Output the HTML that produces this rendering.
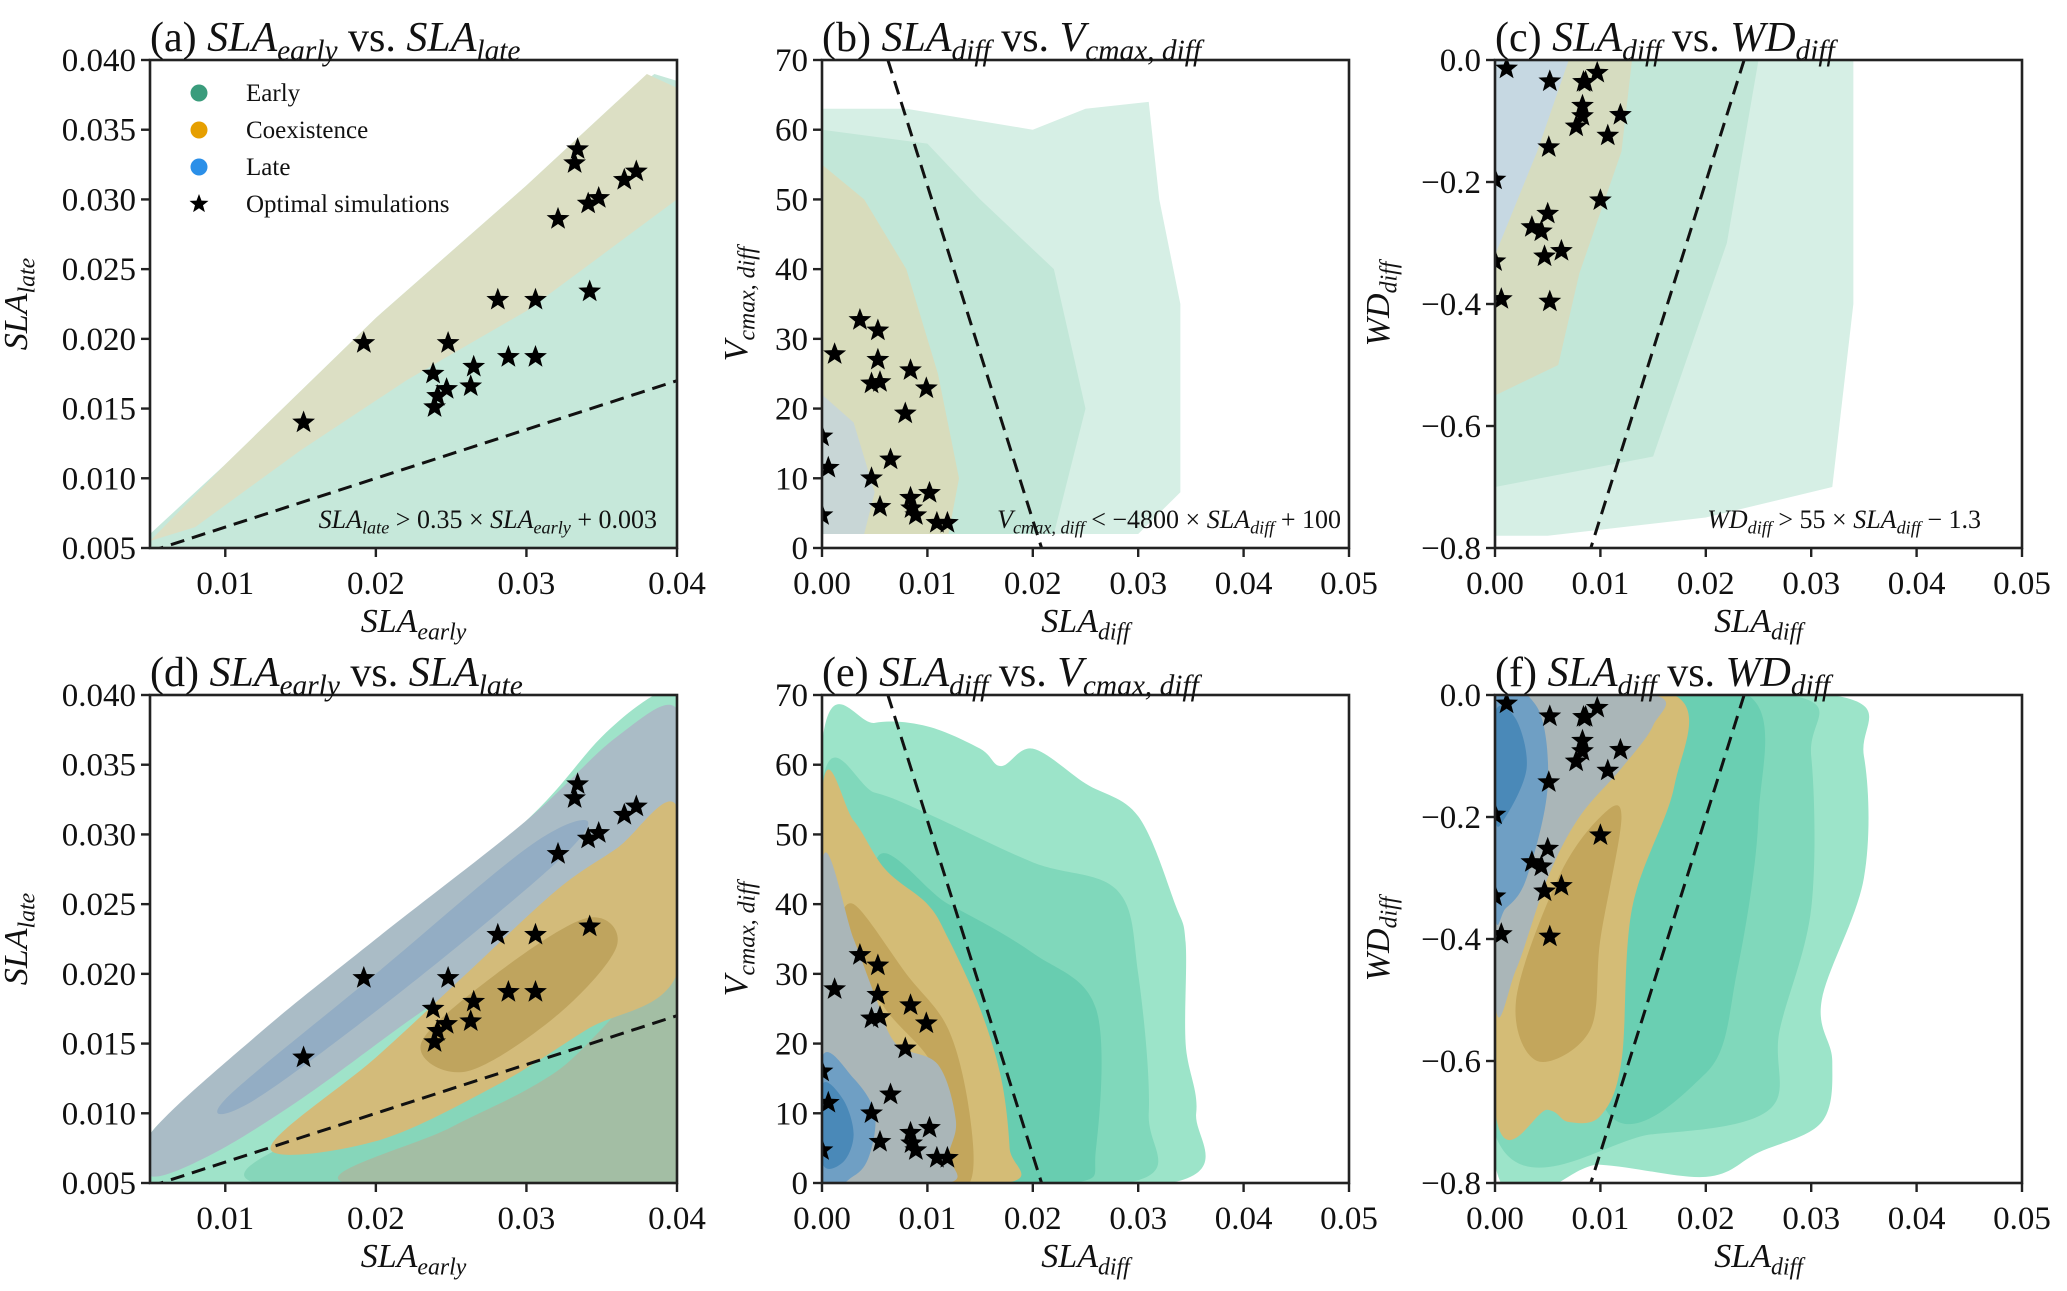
<!DOCTYPE html>
<html><head><meta charset="utf-8"><style>
html,body{margin:0;padding:0;background:#fff}
svg{display:block;font-family:"Liberation Serif",serif}
</style></head><body>
<svg id="fig" width="2067" height="1291" viewBox="0 0 2067 1291" xmlns="http://www.w3.org/2000/svg"></svg>
<script>
// ---------- data ----------
const starsEarly=[0.0152,0.0192,0.0248,0.0238,0.0241,0.0239,0.0247,0.0263,0.0265,0.0281,0.0288,0.0306,0.0306,0.0321,0.0334,0.0332,0.0341,0.0348,0.0342,0.0365,0.0373];
const starsLate=[0.0140,0.0197,0.0197,0.0175,0.0159,0.0151,0.0164,0.0166,0.0180,0.0228,0.0187,0.0228,0.0187,0.0286,0.0336,0.0326,0.0297,0.0301,0.0234,0.0314,0.0320];
const starsSlaDiffV=[0.0012,0.0036,0.0053,0.0053,0.0047,0.0055,0.0084,0.0099,0.0079,0.0065,0.0047,0.0006,0.0055,0.0084,0.0085,0.0089,0.0102,0.0109,0.0119,0.0,0.0];
const starsVcmax=[27.8,32.7,31.2,27.0,23.6,23.8,25.5,22.9,19.3,12.7,10.0,11.5,5.9,7.2,5.7,4.7,7.9,3.6,3.6,4.7,16.0];
const starsSlaDiffW=[0.0011,0.0052,0.0086,0.0084,0.0097,0.0083,0.0083,0.0077,0.0119,0.0107,0.0051,0.0,0.0100,0.0050,0.0035,0.0044,0.0063,0.0047,0.0,0.0006,0.0052];
const starsWD=[-0.014,-0.035,-0.036,-0.036,-0.021,-0.075,-0.092,-0.109,-0.090,-0.124,-0.143,-0.196,-0.230,-0.252,-0.274,-0.281,-0.313,-0.322,-0.33,-0.392,-0.396];

const ticksA=[0.01,0.02,0.03,0.04], ticksAY=[0.005,0.010,0.015,0.020,0.025,0.030,0.035,0.040];
const ticksDiff=[0,0.01,0.02,0.03,0.04,0.05], ticksV=[0,10,20,30,40,50,60,70], ticksW=[0,-0.2,-0.4,-0.6,-0.8];
const labA=["0.01","0.02","0.03","0.04"], labAY=["0.005","0.010","0.015","0.020","0.025","0.030","0.035","0.040"];
const labDiff=["0.00","0.01","0.02","0.03","0.04","0.05"], labV=["0","10","20","30","40","50","60","70"], labW=["0.0","\u22120.2","\u22120.4","\u22120.6","\u22120.8"];

// scatter density regions (top row) [x,y]
const aEarly=[[0.005,0.005],[0.005,0.006],[0.01,0.011],[0.02,0.0215],[0.03,0.031],[0.036,0.037],[0.0385,0.039],[0.04,0.0385],[0.04,0.005]];
const aMix=[[0.005,0.0055],[0.01,0.011],[0.02,0.0215],[0.03,0.031],[0.038,0.039],[0.04,0.038],[0.04,0.03],[0.035,0.026],[0.03,0.022],[0.022,0.017],[0.015,0.012],[0.008,0.0065]];
const bEarlySparse=[[0,2],[0,63],[0.008,63],[0.012,62],[0.02,60],[0.025,63],[0.031,64],[0.032,50],[0.034,35],[0.034,8],[0.03,2]];
const bEarlyDense=[[0,2],[0,60],[0.01,58],[0.015,50],[0.022,40],[0.025,20],[0.022,2]];
const bMix=[[0,2],[0,55],[0.004,50],[0.008,40],[0.011,25],[0.013,10],[0.012,2]];
const bLate=[[0,2],[0,22],[0.003,18],[0.005,8],[0.004,2]];
const cEarlySparse=[[0,0],[0.034,0],[0.034,-0.4],[0.032,-0.7],[0.02,-0.75],[0.005,-0.78],[0,-0.78]];
const cEarlyDense=[[0,0],[0.025,0],[0.022,-0.3],[0.015,-0.65],[0,-0.7]];
const cMix=[[0,0],[0.013,0],[0.012,-0.15],[0.008,-0.35],[0.006,-0.5],[0,-0.55]];
const cLate=[[0,0],[0.007,0],[0.004,-0.15],[0,-0.32]];

// KDE layers (bottom row)
const dG1=[[0.005,0.005],[0.005,0.0085],[0.01,0.013],[0.02,0.022],[0.03,0.031],[0.035,0.037],[0.0385,0.04],[0.04,0.04],[0.04,0.005]];
const dG2=[[0.012,0.005],[0.04,0.005],[0.04,0.03],[0.035,0.025],[0.028,0.018],[0.02,0.011]];
const dG3=[[0.018,0.005],[0.04,0.005],[0.04,0.02],[0.032,0.013],[0.025,0.009]];
const dB1=[[0.005,0.0055],[0.005,0.0085],[0.012,0.0155],[0.02,0.0225],[0.03,0.031],[0.036,0.037],[0.04,0.039],[0.04,0.031],[0.034,0.026],[0.028,0.021],[0.022,0.0165],[0.015,0.011],[0.009,0.007]];
const dO1=[[0.013,0.0075],[0.02,0.014],[0.026,0.02],[0.032,0.026],[0.036,0.029],[0.04,0.032],[0.04,0.02],[0.034,0.016],[0.028,0.012],[0.02,0.008]];
const dO2=[[0.023,0.015],[0.028,0.02],[0.034,0.024],[0.036,0.022],[0.032,0.017],[0.026,0.013]];
const dB2=[[0.01,0.011],[0.02,0.02],[0.03,0.029],[0.034,0.031],[0.032,0.028],[0.022,0.019],[0.012,0.011]];

const eG1=[[0,0],[0,63],[0.005,66],[0.01,65.5],[0.015,62.3],[0.017,59.8],[0.02,62.3],[0.025,57.3],[0.03,52.6],[0.0335,40],[0.0345,34.5],[0.0345,20],[0.0355,10],[0.033,0]];
const eG2=[[0,0],[0,57],[0.005,56],[0.01,53],[0.02,46],[0.028,42],[0.03,30],[0.031,10],[0.029,0]];
const eG3=[[0.01,0],[0.005,45],[0.012,40],[0.02,33],[0.026,25],[0.026,5],[0.024,0]];
const eO1=[[0,0],[0,56],[0.003,52],[0.006,45],[0.01,40],[0.012,35],[0.015,25],[0.017,15],[0.0178,5],[0.0175,0]];
const eO2=[[0.01,0],[0.011,15],[0.006,25],[0.002,35],[0.003,40],[0.008,30],[0.012,22],[0.014,10],[0.014,0]];
const eGr=[[0,0],[0,46],[0.003,35],[0.005,27],[0.007,20],[0.011,17],[0.0127,9],[0.012,4],[0.012,0]];
const eB1=[[0,0],[0,18],[0.003,15],[0.005,10],[0.0045,4],[0.003,1]];
const eB2=[[0,3],[0,14],[0.002,12],[0.003,7],[0.002,3]];

const fG1=[[0,0],[0.032,0],[0.035,-0.1],[0.035,-0.3],[0.031,-0.5],[0.032,-0.6],[0.031,-0.7],[0.025,-0.75],[0.02,-0.79],[0.01,-0.77],[0,-0.77]];
const fG2=[[0,0],[0.028,0],[0.03,-0.1],[0.03,-0.35],[0.027,-0.55],[0.026,-0.68],[0.015,-0.72],[0,-0.72]];
const fG3=[[0.008,0],[0.024,0],[0.025,-0.2],[0.023,-0.45],[0.02,-0.62],[0.01,-0.66]];
const fO1=[[0,0],[0.017,0],[0.017,-0.15],[0.013,-0.35],[0.012,-0.6],[0.01,-0.69],[0.007,-0.7],[0.005,-0.68],[0,-0.68]];
const fO2=[[0.002,-0.5],[0.006,-0.3],[0.01,-0.2],[0.012,-0.2],[0.01,-0.4],[0.009,-0.55],[0.004,-0.6]];
const fGr=[[0,0],[0.015,0],[0.015,-0.05],[0.012,-0.12],[0.008,-0.2],[0.005,-0.3],[0.002,-0.45],[0,-0.5]];
const fB1=[[0,-0.01],[0.004,-0.02],[0.005,-0.15],[0.003,-0.3],[0.001,-0.35],[0,-0.35]];
const fB2=[[0,-0.03],[0.002,-0.04],[0.003,-0.12],[0.001,-0.2],[0,-0.2]];

// ---------- helpers ----------
const NS="http://www.w3.org/2000/svg";
const svg=document.getElementById('fig');
function mk(tag,attrs,parent){const e=document.createElementNS(NS,tag);for(const k in attrs)e.setAttribute(k,attrs[k]);(parent||svg).appendChild(e);return e;}
function rich(parent,x,y,segs,size,anchor,rot){
  const t=mk('text',{x:x,y:y,'font-size':size,'text-anchor':anchor||'start',fill:'#111'},parent);
  if(rot)t.setAttribute('transform','rotate(-90 '+x+' '+y+')');
  let sub=false;
  segs.forEach(s=>{const ts=mk('tspan',{},t);ts.textContent=s[0];
    if(s[1]==='i')ts.setAttribute('font-style','italic');
    if(s[1]==='s'){ts.setAttribute('font-style','italic');ts.setAttribute('font-size',size*0.7);if(!sub){ts.setAttribute('dy',size*0.22);sub=true;}}
    else if(sub){ts.setAttribute('dy',-size*0.22);sub=false;}
  });
  return t;
}
function makePanel(name,left,top,w,h,xlim,ylim){
  const g=mk('g',{});
  
  
  const sx=v=>left+(v-xlim[0])/(xlim[1]-xlim[0])*w;
  const sy=v=>top+h-(v-ylim[0])/(ylim[1]-ylim[0])*h;
  const cid='clip-'+name;
  const cp=mk('clipPath',{id:cid},g);mk('rect',{x:left,y:top,width:w,height:h},cp);
  const plot=mk('g',{'clip-path':'url(#'+cid+')'},g);
  return {g,plot,sx,sy,left,top,w,h};
}
function smoothPath(P,pts){
  const p=pts.map(q=>[P.sx(q[0]),P.sy(q[1])]);const n=p.length;let d='M'+p[0][0]+','+p[0][1];
  for(let i=0;i<n;i++){const p0=p[(i-1+n)%n],p1=p[i],p2=p[(i+1)%n],p3=p[(i+2)%n];
    const c1=[p1[0]+(p2[0]-p0[0])/6,p1[1]+(p2[1]-p0[1])/6],c2=[p2[0]-(p3[0]-p1[0])/6,p2[1]-(p3[1]-p1[1])/6];
    d+=' C'+c1[0]+','+c1[1]+' '+c2[0]+','+c2[1]+' '+p2[0]+','+p2[1];}
  return d+'Z';
}
function region(P,pts,fill,name,smooth){
  const d=smooth?smoothPath(P,pts):'M'+pts.map(q=>P.sx(q[0])+','+P.sy(q[1])).join(' L')+'Z';
  const e=mk('path',{d:d,fill:fill,stroke:'none'},P.plot);
  
  
}
function starPath(cx,cy,r){let d='';for(let i=0;i<10;i++){const a=-Math.PI/2+i*Math.PI/5,rr=i%2?r*0.42:r;d+=(i?'L':'M')+(cx+rr*Math.cos(a)).toFixed(1)+','+(cy+rr*Math.sin(a)).toFixed(1);}return d+'Z';}
function stars(P,xs,ys){
  const g=mk('g',{},P.plot);
  
  
  xs.forEach((x,i)=>{const s=mk('path',{d:starPath(P.sx(x),P.sy(ys[i]),12),fill:'#000'},g);
    
    });
}
function dashLine(P,x1,y1,x2,y2){
  const l=mk('line',{x1:P.sx(x1),y1:P.sy(y1),x2:P.sx(x2),y2:P.sy(y2),stroke:'#111','stroke-width':3,'stroke-dasharray':'14 8'},P.plot);
  
  
}
function axes(P,xt,xl,yt,yl,xlabel,ylabel,ylabOff,title){
  const ax=mk('g',{},P.g);
  
  
  mk('rect',{x:P.left,y:P.top,width:P.w,height:P.h,fill:'none',stroke:'#222','stroke-width':2.6},ax);
  xt.forEach((v,i)=>{const x=P.sx(v);mk('line',{x1:x,x2:x,y1:P.top+P.h,y2:P.top+P.h+9,stroke:'#222','stroke-width':2.4},ax);
    const t=mk('text',{x:x,y:P.top+P.h+46,'font-size':33,'text-anchor':'middle',fill:'#111'},ax);t.textContent=xl[i];
    
    });
  yt.forEach((v,i)=>{const y=P.sy(v);mk('line',{x1:P.left-9,x2:P.left,y1:y,y2:y,stroke:'#222','stroke-width':2.4},ax);
    const t=mk('text',{x:P.left-14,y:y+11,'font-size':33,'text-anchor':'end',fill:'#111'},ax);t.textContent=yl[i];
    
    });
  const xlab=rich(ax,P.left+P.w/2,P.top+P.h+84,xlabel,34,'middle');
  
  
  const ylab=rich(ax,P.left-ylabOff,P.top+P.h/2,ylabel,34,'middle',true);
  
  
  const tt=rich(ax,P.left,P.top-9,title,42,'start');
  
  
}
const L=[150,822,1495],T=[60,695],W=527,H=488;
const labSLAe=[["SLA","i"],["early","s"]],labSLAl=[["SLA","i"],["late","s"]],labSLAd=[["SLA","i"],["diff","s"]];
const labVc=[["V","i"],["cmax, diff","s"]],labWD=[["WD","i"],["diff","s"]];
function tA(p){return [[p+" ",""],["SLA","i"],["early","s"],[" vs. ",""],["SLA","i"],["late","s"]];}
function tB(p){return [[p+" ",""],["SLA","i"],["diff","s"],[" vs. ",""],["V","i"],["cmax, diff","s"]];}
function tC(p){return [[p+" ",""],["SLA","i"],["diff","s"],[" vs. ",""],["WD","i"],["diff","s"]];}

// ---------- panel a ----------
let P=makePanel('panel-a',L[0],T[0],W,H,[0.005,0.04],[0.005,0.04]);
region(P,aEarly,'#c6e8da','early-scatter-region');
region(P,aMix,'#dcdfc4','coexistence-late-scatter-region');
dashLine(P,0.005,0.35*0.005+0.003,0.04,0.35*0.04+0.003);
stars(P,starsEarly,starsLate);
axes(P,ticksA,labA,ticksAY,labAY,labSLAe,labSLAl,123,tA("(a)"));
rich(P.g,657,528,[["SLA","i"],["late","s"],[" > 0.35 \u00d7 ",""],["SLA","i"],["early","s"],[" + 0.003",""]],26,'end');
// legend
const legG=mk('g',{},P.g);


const legNames=["Early","Coexistence","Late","Optimal simulations"],legCols=['#3a9c7c','#e69f00','#2b8fe8','#000'];
legNames.forEach((n,i)=>{const y=93+i*37;
  if(i<3){mk('circle',{cx:199,cy:y,r:8.5,fill:legCols[i]},legG);}else{mk('path',{d:starPath(199,y,10),fill:'#000'},legG);}
  const t=mk('text',{x:246,y:y+8,'font-size':25,fill:'#111'},legG);t.textContent=n;
  
  });

// ---------- panel b ----------
P=makePanel('panel-b',L[1],T[0],W,H,[0,0.05],[0,70]);
region(P,bEarlySparse,'#d6efe5','early-sparse-region');
region(P,bEarlyDense,'#c2e7d8','early-dense-region');
region(P,bMix,'#d8dcbc','coexistence-region');
region(P,bLate,'#c8d6d6','late-region');
dashLine(P,(100-70)/4800,70,100/4800,0);
stars(P,starsSlaDiffV,starsVcmax);
axes(P,ticksDiff,labDiff,ticksV,labV,labSLAd,labVc,75,tB("(b)"));
rich(P.g,1341,528,[["V","i"],["cmax, diff","s"],[" < \u22124800 \u00d7 ",""],["SLA","i"],["diff","s"],[" + 100",""]],26,'end');

// ---------- panel c ----------
P=makePanel('panel-c',L[2],T[0],W,H,[0,0.05],[-0.8,0]);
region(P,cEarlySparse,'#d6efe5','early-sparse-region');
region(P,cEarlyDense,'#c2e7d8','early-dense-region');
region(P,cMix,'#d6dcc0','coexistence-region');
region(P,cLate,'#c6d8e2','late-region');
dashLine(P,1.3/55,0,0.5/55,-0.8);
stars(P,starsSlaDiffW,starsWD);
axes(P,ticksDiff,labDiff,ticksW,labW,labSLAd,labWD,106,tC("(c)"));
rich(P.g,1981,528,[["WD","i"],["diff","s"],[" > 55 \u00d7 ",""],["SLA","i"],["diff","s"],[" \u2212 1.3",""]],26,'end');

// ---------- panel d ----------
P=makePanel('panel-d',L[0],T[1],W,H,[0.005,0.04],[0.005,0.04]);
region(P,dG1,'#9fe3c9','kde-early-outer',true);
region(P,dG2,'#86d6ba','kde-early-mid',true);
region(P,dG3,'#a3bea4','kde-early-inner',true);
region(P,dB1,'#aabcc6','kde-late-outer',true);
region(P,dO1,'#d3bb7a','kde-coexistence-outer',true);
region(P,dO2,'#bfa45e','kde-coexistence-inner',true);
region(P,dB2,'#93adc4','kde-late-inner',true);
dashLine(P,0.005,0.35*0.005+0.003,0.04,0.35*0.04+0.003);
stars(P,starsEarly,starsLate);
axes(P,ticksA,labA,ticksAY,labAY,labSLAe,labSLAl,123,tA("(d)"));

// ---------- panel e ----------
P=makePanel('panel-e',L[1],T[1],W,H,[0,0.05],[0,70]);
region(P,eG1,'#9ce4c9','kde-early-outer',true);
region(P,eG2,'#80d8bb','kde-early-mid',true);
region(P,eG3,'#68cdb0','kde-early-inner',true);
region(P,eO1,'#d4bc76','kde-coexistence-outer',true);
region(P,eO2,'#c3a65c','kde-coexistence-inner',true);
region(P,eGr,'#aab6b8','kde-late-outer',true);
region(P,eB1,'#6f9fc4','kde-late-mid',true);
region(P,eB2,'#4a89b8','kde-late-inner',true);
dashLine(P,(100-70)/4800,70,100/4800,0);
stars(P,starsSlaDiffV,starsVcmax);
axes(P,ticksDiff,labDiff,ticksV,labV,labSLAd,labVc,75,tB("(e)"));

// ---------- panel f ----------
P=makePanel('panel-f',L[2],T[1],W,H,[0,0.05],[-0.8,0]);
region(P,fG1,'#9ce4c9','kde-early-outer',true);
region(P,fG2,'#80d8bb','kde-early-mid',true);
region(P,fG3,'#6acfb2','kde-early-inner',true);
region(P,fO1,'#d4bc76','kde-coexistence-outer',true);
region(P,fO2,'#c3a65c','kde-coexistence-inner',true);
region(P,fGr,'#aab6b8','kde-late-outer',true);
region(P,fB1,'#6f9fc4','kde-late-mid',true);
region(P,fB2,'#4a89b8','kde-late-inner',true);
dashLine(P,1.3/55,0,0.5/55,-0.8);
stars(P,starsSlaDiffW,starsWD);
axes(P,ticksDiff,labDiff,ticksW,labW,labSLAd,labWD,106,tC("(f)"));
</script>
</body></html>
